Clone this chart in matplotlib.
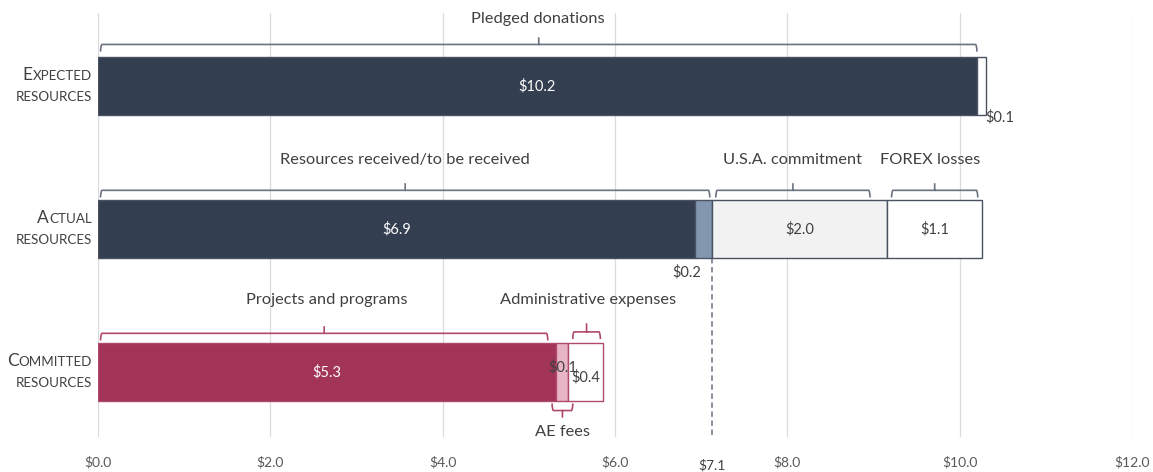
import matplotlib
matplotlib.use("Agg")
import matplotlib.pyplot as plt
from matplotlib.path import Path
from matplotlib.patches import PathPatch

plt.rcParams['font.family'] = ['Lato', 'DejaVu Sans']

# ---- data ----
rows = ["Expected resources", "Actual resources", "Committed resources"]
expected_vals = [10.2, 0.1]
actual_vals = [6.93, 0.2, 2.03, 1.1]
committed_vals = [5.32, 0.14, 0.4]
xticks = [0, 2, 4, 6, 8, 10, 12]
marker_val = 7.13
marker_label = "$7.1"

NAVY = "#333F50"
SLATE = "#8497B0"
LGREY = "#F2F2F2"
CRIMSON = "#A23457"
PINK = "#E8B5C7"
EDGE_D = "#4A5262"
EDGE_C = "#B04A6C"
BR_D = "#6B7280"
TXT = "#404040"
VFS = 10.5   # value label size
BFS = 11.8   # bracket label size

fig = plt.figure(figsize=(11.53, 4.72), dpi=100)
ax = fig.add_axes([98/1153, 1-437/472, (1132-98)/1153, (437-13)/472])
ax.set_xlim(0, 12)
ax.set_ylim(2.455, -0.51)
for s in ax.spines.values():
    s.set_visible(False)
ax.set_yticks([])
ax.set_xticks(xticks)
ax.set_xticklabels([f"${t:.1f}" for t in xticks], color="#595959", fontsize=10)
ax.tick_params(axis='x', length=0, pad=13.5)
for t in xticks:
    ax.axvline(t, color="#DADADA", lw=0.9, zorder=0)

H = 0.40

def stacked(y, vals, colors, edge):
    left = 0
    segs = []
    for v, c in zip(vals, colors):
        ax.barh(y, v, left=left, height=H, color=c, edgecolor=edge, linewidth=1.0, zorder=2)
        segs.append((left, left + v))
        left += v
    return segs

se = stacked(0, expected_vals, [NAVY, "white"], EDGE_D)
sa = stacked(1, actual_vals, [NAVY, SLATE, LGREY, "white"], EDGE_D)
sc = stacked(2, committed_vals, [CRIMSON, PINK, "white"], EDGE_C)

def brace(x0, x1, y, color, up=True, d=0.05, tick=0.05):
    s = 1 if up else -1
    r = 0.03
    verts = [(x0, y + s*d), (x0, y + s*r*0.3), (x0 + r*0.5, y), ((x0+x1)/2, y),
             ((x0+x1)/2, y - s*tick), ((x0+x1)/2, y), (x1 - r*0.5, y), (x1, y + s*r*0.3), (x1, y + s*d)]
    codes = [Path.MOVETO, Path.CURVE3, Path.CURVE3, Path.LINETO, Path.LINETO,
             Path.MOVETO, Path.LINETO, Path.CURVE3, Path.CURVE3]
    ax.add_patch(PathPatch(Path(verts, codes), fill=False, edgecolor=color, lw=1.2,
                           zorder=3, clip_on=False))

def blabel(x, y, text):
    ax.text(x, y, text, ha='center', va='center', fontsize=BFS, color=TXT, clip_on=False)

# Expected row
by = -0.29
brace(0.03, se[0][1], by, BR_D)
blabel(se[0][1]/2, -0.47, "Pledged donations")
ax.text(sum(se[0])/2, 0, f"${expected_vals[0]:.1f}", ha='center', va='center', color='white', fontsize=VFS)
ax.text(se[1][1] + 0.17, 0.22, f"${expected_vals[1]:.1f}", ha='center', va='center', color=TXT, fontsize=VFS)

# Actual row
by = 1 - 0.27
brace(0.03, sa[1][1] - 0.03, by, BR_D)
blabel(sa[1][1]/2, 1 - 0.48, "Resources received/to be received")
brace(sa[2][0] + 0.04, sa[2][1] - 0.2, by, BR_D)
blabel((sa[2][0] + sa[2][1] - 0.16)/2, 1 - 0.48, "U.S.A. commitment")
brace(sa[3][0] + 0.05, sa[3][1] - 0.05, by, BR_D)
blabel(sum(sa[3])/2 - 0.05, 1 - 0.48, "FOREX losses")
ax.text(sum(sa[0])/2, 1, f"${actual_vals[0]:.1f}", ha='center', va='center', color='white', fontsize=VFS)
ax.text(sa[1][0] - 0.1, 1.3, f"${actual_vals[1]:.1f}", ha='center', va='center', color=TXT, fontsize=VFS)
ax.text(sum(sa[2])/2, 1, f"${actual_vals[2]:.1f}", ha='center', va='center', color=TXT, fontsize=VFS)
ax.text(sum(sa[3])/2, 1, f"${actual_vals[3]:.1f}", ha='center', va='center', color=TXT, fontsize=VFS)

# Committed row
by = 2 - 0.27
brace(0.03, sc[0][1] - 0.1, by, EDGE_C)
blabel(sc[0][1]/2, 2 - 0.50, "Projects and programs")
brace(sc[2][0] + 0.05, sc[2][1] - 0.03, by - 0.01, EDGE_C, d=0.05, tick=0.06)
blabel(sc[2][0] + 0.23, 2 - 0.50, "Administrative expenses")
brace(sc[1][0] - 0.05, sc[1][1] + 0.05, 2 + 0.27, EDGE_C, up=False)
blabel(sum(sc[1])/2, 2 + 0.42, "AE fees")
ax.text(sum(sc[0])/2, 2, f"${committed_vals[0]:.1f}", ha='center', va='center', color='white', fontsize=VFS)
ax.text(sum(sc[1])/2, 1.97, f"${committed_vals[1]:.1f}", ha='center', va='center', color=TXT, fontsize=VFS, zorder=4)
ax.text(sum(sc[2])/2, 2.04, f"${committed_vals[2]:.1f}", ha='center', va='center', color=TXT, fontsize=VFS, zorder=4)

# marker line
ax.plot([marker_val, marker_val], [1 + H/2, 2.455], color="#7F8896", lw=1.3, ls=(0, (3, 2)), zorder=1)
ax.text(marker_val, -0.067, marker_label, transform=ax.get_xaxis_transform(), ha='center', va='center',
        color="#404040", fontsize=10)

# small-caps row labels
fig.canvas.draw()
renderer = fig.canvas.get_renderer()
def smallcaps(y, first, rest, second):
    xr = -0.006
    tr = ax.get_yaxis_transform()
    t1 = ax.text(xr, y - 0.042, rest.upper(), transform=tr, ha='right', va='baseline',
                 fontsize=9.6, color="#404040")
    bb = t1.get_window_extent(renderer)
    xl = ax.transAxes.inverted().transform((bb.x0, bb.y0))[0]
    ax.text(xl, y - 0.042, first, transform=tr, ha='right', va='baseline',
            fontsize=12.5, color="#404040")
    ax.text(xr, y + 0.105, second.upper(), transform=tr, ha='right', va='baseline',
            fontsize=9.6, color="#404040")

smallcaps(0, "E", "xpected", "resources")
smallcaps(1, "A", "ctual", "resources")
smallcaps(2, "C", "ommitted", "resources")

fig.savefig("out.png", dpi=100)
